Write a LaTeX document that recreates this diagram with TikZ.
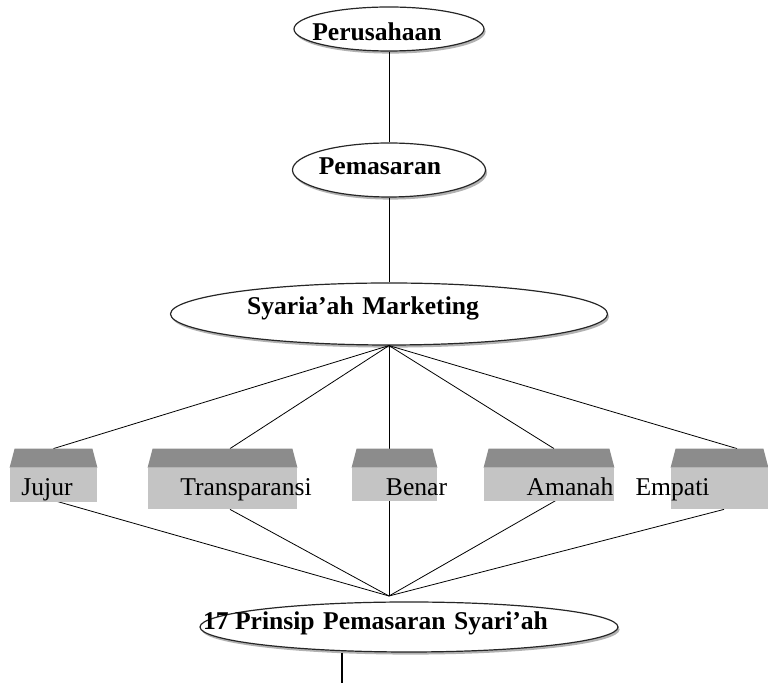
\documentclass[tikz,border=0pt]{standalone}
\usepackage{fontspec}
\setmainfont{Liberation Serif}
\usetikzlibrary{shapes.geometric,shadows}
\definecolor{topgray}{RGB}{140,140,140}
\definecolor{facegray}{RGB}{196,196,196}
% the two faces of a box, drawn from the anchors of its frame node
\newcommand{\boxfaces}[1]{%
	\fill[facegray] ([yshift=-9.5pt]#1.north west) rectangle (#1.south east);
	\fill[topgray] ([xshift=2.5pt]#1.north west)--([xshift=-2.5pt]#1.north east)--([yshift=-9.5pt]#1.north east)--([yshift=-9.5pt]#1.north west)--cycle;}
\begin{document}
\begin{tikzpicture}[x=0.5pt,y=-0.5pt,
	oval/.style={ellipse,draw=black!85,line width=0.6pt,fill=white,inner sep=0pt,
		drop shadow={shadow xshift=0.8pt,shadow yshift=-1.3pt,fill=black!60}},
	frame/.style={rectangle,inner sep=0pt},
	title/.style={anchor=base,inner sep=0pt,font=\fontsize{12.8}{15}\selectfont\bfseries},
	word/.style={anchor=base,inner sep=0pt,font=\fontsize{12.8}{15}\selectfont}]
		\useasboundingbox (0,0) rectangle (768,683);
		% ellipses
		\node[oval,minimum width=95pt,minimum height=22pt](per) at (389,29){};
		\node[oval,minimum width=96.5pt,minimum height=27pt](pem) at (389,170){};
		\node[oval,minimum width=218.5pt,minimum height=31pt](syar) at (389,314){};
		\node[oval,minimum width=209pt,minimum height=25pt](prin) at (409,627){};
		\node[title](tper) at (377,41){Perusahaan};
		\node[title](tpem) at (380,175){Pemasaran};
		\node[title](tsyar) at (363,315){Syaria’ah\,\,Marketing};
		\node[title](tprin) at (375.5,630){17 Prinsip\,\,Pemasaran\,\,Syari’ah};
		% boxes
		\node[frame,minimum width=43.5pt,minimum height=26.5pt](jujur) at (53.5,475.5){};
		\node[frame,minimum width=74.5pt,minimum height=30pt](trans) at (222.5,479){};
		\node[frame,minimum width=42.5pt,minimum height=26pt](benar) at (394.5,475){};
		\node[frame,minimum width=65pt,minimum height=26pt](amanah) at (549,475){};
		\node[frame,minimum width=48.5pt,minimum height=30pt](empati) at (719.5,479){};
		\coordinate (meet) at (389,596);
		\coordinate (out) at (342,683);
		\draw[thin,black] (per.south)--(pem.north);
		\draw[thin,black] (pem.south)--(syar.north);
		\draw[thin,black] (syar.south)--(jujur.north);
		\draw[thin,black] (syar.south)--([xshift=3.75pt]trans.north);
		\draw[thin,black] (syar.south)--([xshift=-2.75pt]benar.north);
		\draw[thin,black] (syar.south)--([xshift=2.5pt]amanah.north);
		\draw[thin,black] (syar.south)--([xshift=8.75pt]empati.north);
		\draw[thin,black] ([yshift=1pt]jujur.south)--(meet);
		\draw[thin,black] ([xshift=3.75pt]trans.south)--(meet);
		\draw[thin,black] ([xshift=-2.75pt,yshift=0.5pt]benar.south)--(meet);
		\draw[thin,black] ([xshift=3.5pt,yshift=0.5pt]amanah.south)--(meet);
		\draw[thin,black] ([xshift=2.25pt]empati.south)--(meet);
		\draw[black,line width=1pt] (out |- prin.south)--(out);
		\boxfaces{jujur}
		\boxfaces{trans}
		\boxfaces{benar}
		\boxfaces{amanah}
		\boxfaces{empati}
		\node[word](tjujur) at (47,496){Jujur};
		\node[word](ttrans) at (246,496){Transparansi};
		\node[word](tbenar) at (416.5,496){Benar};
		\node[word](tamanah) at (570,496){Amanah};
		\node[word](tempati) at (672.5,496){Empati};
	\end{tikzpicture}
\end{document}
